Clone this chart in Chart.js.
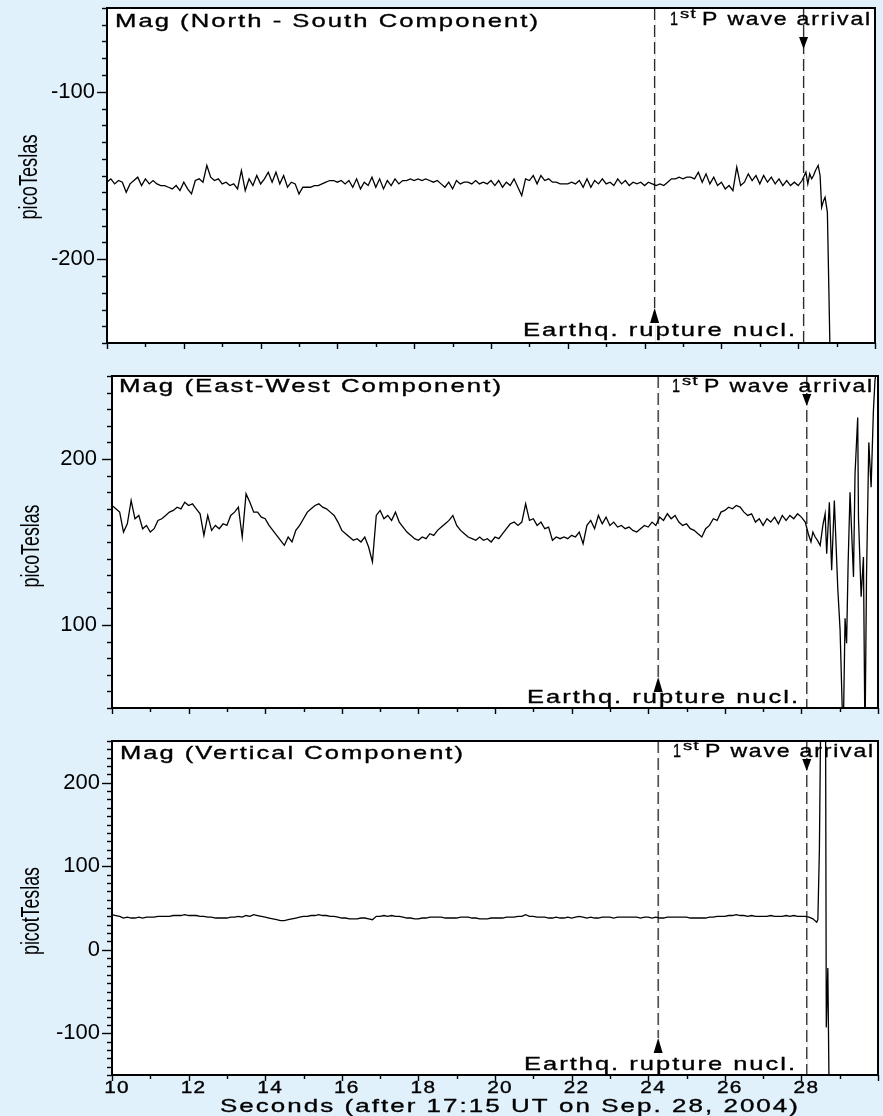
<!DOCTYPE html>
<html>
<head>
<meta charset="utf-8">
<title>Magnetometer records, Sep. 28, 2004</title>
<script src="https://cdn.jsdelivr.net/npm/chart.js@4.4.1/dist/chart.umd.min.js"></script>
<style>
  html, body { margin: 0; padding: 0; background: #e0f1fc; }
  #wrap { position: relative; width: 883px; height: 1116px; }
  #wrap canvas { position: absolute; left: 0; }
</style>
</head>
<body>
<div id="wrap">
  <canvas id="chartNS" width="883" height="360" style="top:0"></canvas>
  <canvas id="chartEW" width="883" height="360" style="top:360px"></canvas>
  <canvas id="chartVT" width="883" height="396" style="top:720px"></canvas>
</div>
<script>
// quiet part of each record is read every 0.1 s from 10.0 s to 28.1 s
const T0 = 10, DT = 0.1;

const nsQuiet = [
  -154, -152, -155, -153, -154, -160, -155, -153, -151, -156,
  -152, -155, -153, -155, -156, -156, -157, -158, -156, -159,
  -154, -158, -161, -153, -152, -154, -144, -151, -153, -152,
  -155, -154, -156, -155, -158, -147, -159, -152, -156, -150,
  -155, -152, -148, -154, -148, -155, -150, -157, -154, -155,
  -161, -157, -157, -157, -156, -156, -155, -154, -153, -153,
  -154, -153, -155, -153, -157, -152, -158, -154, -156, -151,
  -157, -152, -158, -153, -156, -152, -155, -153, -153, -152,
  -153, -152, -153, -152, -153, -154, -153, -155, -157, -154,
  -158, -153, -155, -154, -154, -155, -153, -155, -154, -155,
  -153, -156, -153, -157, -154, -156, -152, -157, -162, -152,
  -153, -150, -155, -150, -153, -152, -154, -154, -155, -155,
  -155, -154, -155, -153, -157, -152, -157, -153, -155, -152,
  -155, -154, -156, -152, -155, -153, -156, -154, -155, -154,
  -156, -154, -155, -156, -155, -156, -154, -152, -152, -151,
  -152, -151, -151, -152, -148, -154, -149, -155, -151, -156,
  -154, -158, -156, -159, -145, -156, -154, -149, -153, -150,
  -155, -150, -154, -151, -155, -152, -156, -153, -156, -154,
  -156, -153
];
const nsTailT = [28.2, 28.25, 28.3, 28.35, 28.4, 28.45, 28.52, 28.57, 28.61, 28.66, 28.7, 28.76, 28.8, 28.84];
const nsTailV = [-148, -155, -149, -152, -150, -147, -144, -150, -169, -165, -163, -172, -220, -270];

const ewQuiet = [
  172, 170, 168, 156, 161, 175, 164, 166, 158, 160,
  156, 158, 163, 164, 166, 168, 169, 171, 170, 174,
  172, 173, 170, 167, 154, 166, 157, 160, 158, 161,
  160, 166, 168, 171, 153, 179, 174, 168, 168, 165,
  164, 160, 157, 154, 151, 148, 153, 150, 157, 160,
  164, 168, 170, 172, 173, 171, 170, 168, 166, 162,
  157, 155, 153, 151, 152, 150, 153, 147, 138, 166,
  169, 164, 166, 163, 168, 162, 159, 156, 154, 152,
  151, 153, 152, 155, 154, 157, 159, 161, 163, 166,
  160, 157, 155, 153, 152, 151, 153, 151, 152, 150,
  153, 152, 155, 158, 161, 162, 160, 162, 173, 163,
  164, 160, 162, 158, 159, 151, 153, 152, 153, 152,
  154, 153, 156, 149, 160, 163, 158, 166, 161, 165,
  160, 162, 159, 160, 158, 159, 157, 156, 158, 160,
  159, 162, 160, 165, 163, 167, 164, 166, 162, 160,
  161, 158, 157, 155, 153, 158, 160, 164, 163, 168,
  169, 171, 170, 172, 171, 168, 166, 167, 162, 164,
  160, 164, 162, 165, 161, 166, 163, 166, 164, 167,
  165, 162
];
const ewTailT = [
  28.18, 28.25, 28.3, 28.36, 28.42, 28.49, 28.56, 28.62, 28.66, 28.73,
  28.79, 28.86, 28.95, 29.01, 29.09, 29.14, 29.18, 29.22, 29.27, 29.36,
  29.4, 29.47, 29.49, 29.56, 29.62, 29.66, 29.7, 29.76, 29.82, 29.88,
  29.92, 30.0
];
const ewTailV = [
  155, 150, 156, 153, 151, 148, 160, 167, 143, 174,
  133, 175, 122, 97, 30, 104, 89, 137, 180, 129,
  191, 225, 165, 117, 141, 30, 129, 210, 183, 229,
  247, 262
];

const vtQuiet = [
  42, 41, 40, 38, 39, 38, 38, 39, 38, 39,
  39, 39, 40, 40, 40, 40, 41, 41, 41, 42,
  41, 41, 41, 40, 40, 39, 39, 38, 38, 38,
  38, 39, 39, 40, 39, 41, 40, 42, 41, 40,
  39, 38, 37, 36, 35, 35, 36, 37, 38, 39,
  40, 40, 41, 41, 42, 41, 41, 40, 40, 39,
  38, 38, 37, 37, 37, 38, 38, 37, 36, 40,
  40, 41, 40, 41, 40, 40, 39, 38, 38, 37,
  37, 38, 38, 39, 39, 39, 39, 38, 38, 38,
  38, 39, 39, 39, 38, 38, 37, 37, 37, 38,
  38, 38, 38, 39, 39, 39, 40, 40, 42, 40,
  40, 39, 39, 39, 38, 38, 39, 38, 38, 39,
  38, 39, 40, 39, 38, 39, 38, 38, 39, 39,
  39, 38, 39, 39, 39, 39, 39, 39, 38, 39,
  39, 38, 39, 38, 38, 39, 39, 39, 39, 39,
  39, 38, 38, 38, 38, 38, 39, 39, 40, 40,
  40, 41, 41, 42, 41, 41, 40, 41, 40, 40,
  40, 40, 41, 40, 40, 40, 41, 40, 41, 40,
  40, 40
];
const vtTailT = [28.2, 28.3, 28.4, 28.43, 28.47, 28.5, 28.56, 28.63, 28.65, 28.69, 28.73];
const vtTailV = [39, 37, 33, 36, 120, 260, 420, 300, -93, -22, -200];

const panelTitles = ['Mag (North - South Component)', 'Mag (East-West Component)', 'Mag (Vertical Component)'];
const yTitles = ['picoTeslas', 'picoTeslas', 'picotTeslas'];
const yRanges = [[-250, -50], [50, 250], [-150, 250]];
const xTickLabels = ['10', '12', '14', '16', '18', '20', '22', '24', '26', '28'];
const xTitle = 'Seconds (after 17:15 UT on Sep. 28, 2004)';
const nuclTime = 24.26;   // earthquake rupture nucleation
const pTime = 28.14;      // first P wave arrival

const FONT = '"Liberation Sans", Arial, sans-serif';

function series(quiet, tailT, tailV) {
    const pts = quiet.map((v, i) => ({ x: +(T0 + i * DT).toFixed(2), y: v }));
    tailT.forEach((t, i) => pts.push({ x: t, y: tailV[i] }));
    return pts;
}

// text stretched horizontally to a given width (or by a factor)
function wideText(ctx, str, x, y, o) {
    ctx.save();
    ctx.font = (o.size || 18) + 'px ' + FONT;
    if ('letterSpacing' in ctx) ctx.letterSpacing = (o.spacing || 0) + 'px';
    ctx.textAlign = 'left';
    ctx.textBaseline = 'alphabetic';
    ctx.fillStyle = '#000';
    ctx.strokeStyle = '#000';
    ctx.lineWidth = 0.35;
    const w = ctx.measureText(str).width;
    const sx = o.w ? o.w / w : (o.sx || 1);
    const full = w * sx;
    const x0 = o.align === 'center' ? x - full / 2 : (o.align === 'right' ? x - full : x);
    ctx.translate(x0, y);
    ctx.scale(sx, 1);
    ctx.fillText(str, 0, 0);
    ctx.strokeText(str, 0, 0);
    ctx.restore();
}

function rotatedText(ctx, str, cx, cy, size, len) {
    ctx.save();
    ctx.font = size + 'px ' + FONT;
    ctx.textAlign = 'center';
    ctx.textBaseline = 'middle';
    ctx.fillStyle = '#000';
    const sx = len / ctx.measureText(str).width;
    ctx.translate(cx, cy);
    ctx.rotate(-Math.PI / 2);
    ctx.scale(sx, 1);
    ctx.fillText(str, 0, 0);
    ctx.restore();
}

function triangle(ctx, x, tipY, baseY) {
    ctx.beginPath();
    ctx.moveTo(x, tipY);
    ctx.lineTo(x - 4.5, baseY);
    ctx.lineTo(x + 4.5, baseY);
    ctx.closePath();
    ctx.fill();
}

const decor = {
    id: 'decor',
    beforeDraw(chart) {
        const a = chart.chartArea;
        chart.ctx.save();
        chart.ctx.fillStyle = '#fff';
        chart.ctx.fillRect(a.left, a.top, a.right - a.left, a.bottom - a.top);
        chart.ctx.restore();
    },
    beforeDatasetsDraw(chart, args, o) {
        const ctx = chart.ctx, a = chart.chartArea, xs = chart.scales.x;
        const xn = xs.getPixelForValue(nuclTime), xp = xs.getPixelForValue(pTime);
        ctx.save();
        ctx.strokeStyle = '#e9e9e9';
        ctx.lineWidth = 1;
        [xn, xp].forEach(x => {
            ctx.beginPath(); ctx.moveTo(x + 1, a.top); ctx.lineTo(x + 1, a.bottom); ctx.stroke();
        });
        ctx.strokeStyle = '#2a2a2a';
        ctx.lineWidth = 1.3;
        ctx.setLineDash([12, 5]);
        ctx.beginPath(); ctx.moveTo(xn, a.top); ctx.lineTo(xn, o.nTri - 15); ctx.stroke();
        ctx.beginPath(); ctx.moveTo(xp, a.top); ctx.lineTo(xp, a.bottom); ctx.stroke();
        ctx.restore();
    },
    afterDraw(chart, args, o) {
        const ctx = chart.ctx, a = chart.chartArea;
        const xs = chart.scales.x, ys = chart.scales.y;
        ctx.save();
        ctx.strokeStyle = '#000';
        ctx.fillStyle = '#000';

        // tick marks
        ctx.lineWidth = 1.4;
        ys.ticks.forEach(t => {
            const y = Math.round(ys.getPixelForValue(t.value)) + 0.5;
            const len = Math.round(t.value) % 100 === 0 ? 10 : 5;
            ctx.beginPath(); ctx.moveTo(a.left - len, y); ctx.lineTo(a.left, y); ctx.stroke();
        });
        xs.ticks.forEach(t => {
            const x = Math.round(xs.getPixelForValue(t.value)) + 0.5;
            const len = Math.round(t.value) % 2 === 0 ? 6 : 4;
            ctx.beginPath(); ctx.moveTo(x, a.bottom); ctx.lineTo(x, a.bottom + len); ctx.stroke();
        });

        // frame
        ctx.lineWidth = 2;
        ctx.strokeRect(a.left, a.top, a.right - a.left, a.bottom - a.top);

        // markers
        const xn = xs.getPixelForValue(nuclTime), xp = xs.getPixelForValue(pTime);
        triangle(ctx, xp, o.pTri + 12, o.pTri);
        triangle(ctx, xn, o.nTri - 15, o.nTri);

        // texts
        wideText(ctx, o.title, o.titlePos.x, o.titlePos.y, { size: 19, spacing: 1.5, w: o.titlePos.w });
        wideText(ctx, '1', o.arrival.x, o.arrival.y, { size: 19, w: 8 });
        wideText(ctx, 'st', o.arrival.x + 10, o.arrival.y - 7, { size: 13, spacing: 1, w: 17 });
        wideText(ctx, 'P wave arrival', o.arrival.x + 32, o.arrival.y, { size: 19, spacing: 1.5, w: 170 });
        wideText(ctx, 'Earthq. rupture nucl.', o.quake.x, o.quake.y, { size: 19, spacing: 1.5, w: o.quake.w });
        rotatedText(ctx, o.yTitle, o.yLab.x, o.yLab.y, 25, o.yLab.len);

        if (o.xLabels) {
            xTickLabels.forEach(lbl => {
                const x = xs.getPixelForValue(Number(lbl)) + 5;
                wideText(ctx, lbl, x, a.bottom + 18, { size: 16, spacing: 1, sx: 1.3, align: 'center' });
            });
            wideText(ctx, xTitle, 510, a.bottom + 37, { size: 19, spacing: 1.5, w: 580, align: 'center' });
        }
        ctx.restore();
    }
};

function makeChart(canvasId, idx, data, lay) {
    const ctx = document.getElementById(canvasId).getContext('2d');
    return new Chart(ctx, {
        type: 'line',
        data: {
            datasets: [{
                data: data,
                borderColor: '#000',
                borderWidth: 1.3,
                pointRadius: 0,
                tension: 0,
                fill: false
            }]
        },
        options: {
            responsive: false,
            animation: false,
            events: [],
            layout: { padding: { top: lay.top, right: lay.right, left: 0, bottom: 0 } },
            scales: {
                x: {
                    type: 'linear',
                    min: 10,
                    max: 30,
                    grid: { display: false, drawTicks: false },
                    border: { display: false },
                    ticks: { stepSize: 1, display: false },
                    afterFit: s => {
                        s.height = lay.xh;
                        s.paddingLeft = 0; s.paddingRight = 0;
                    }
                },
                y: {
                    min: yRanges[idx][0],
                    max: yRanges[idx][1],
                    grid: { display: false, drawTicks: false },
                    border: { display: false },
                    ticks: {
                        stepSize: 10,
                        autoSkip: false,
                        padding: lay.lblPad,
                        color: '#000',
                        font: { family: FONT, size: 22 },
                        callback: v => (Math.round(v) % 100 === 0 ? String(Math.round(v)) : '')
                    },
                    afterFit: s => {
                        s.width = lay.yw;
                        s.paddingTop = 0; s.paddingBottom = 0;
                    }
                }
            },
            plugins: {
                legend: { display: false },
                tooltip: { enabled: false },
                decor: {
                    title: panelTitles[idx],
                    yTitle: yTitles[idx],
                    titlePos: lay.titlePos,
                    arrival: lay.arrival,
                    quake: lay.quake,
                    pTri: lay.pTri,
                    nTri: lay.nTri,
                    yLab: lay.yLab,
                    xLabels: lay.xLabels
                }
            }
        },
        plugins: [decor]
    });
}

makeChart('chartNS', 0, series(nsQuiet, nsTailT, nsTailV), {
    top: 8, right: 8, yw: 107, xh: 17, lblPad: 12,
    titlePos: { x: 115, y: 27, w: 425 },
    arrival: { x: 670, y: 25 },
    quake: { x: 523, y: 336, w: 274 },
    pTri: 37, nTri: 323,
    yLab: { x: 30, y: 177, len: 85 },
    xLabels: false
});

makeChart('chartEW', 1, series(ewQuiet, ewTailT, ewTailV), {
    top: 16, right: 5, yw: 112, xh: 12, lblPad: 15,
    titlePos: { x: 119, y: 32, w: 384 },
    arrival: { x: 672, y: 32 },
    quake: { x: 527, y: 343, w: 273 },
    pTri: 34, nTri: 332,
    yLab: { x: 32, y: 186, len: 83 },
    xLabels: false
});

makeChart('chartVT', 2, series(vtQuiet, vtTailT, vtTailV), {
    top: 21, right: 5, yw: 112, xh: 41, lblPad: 12,
    titlePos: { x: 120, y: 39, w: 345 },
    arrival: { x: 673, y: 37 },
    quake: { x: 524, y: 350, w: 273 },
    pTri: 39, nTri: 333,
    yLab: { x: 32, y: 191, len: 88 },
    xLabels: true
});
</script>
</body>
</html>
